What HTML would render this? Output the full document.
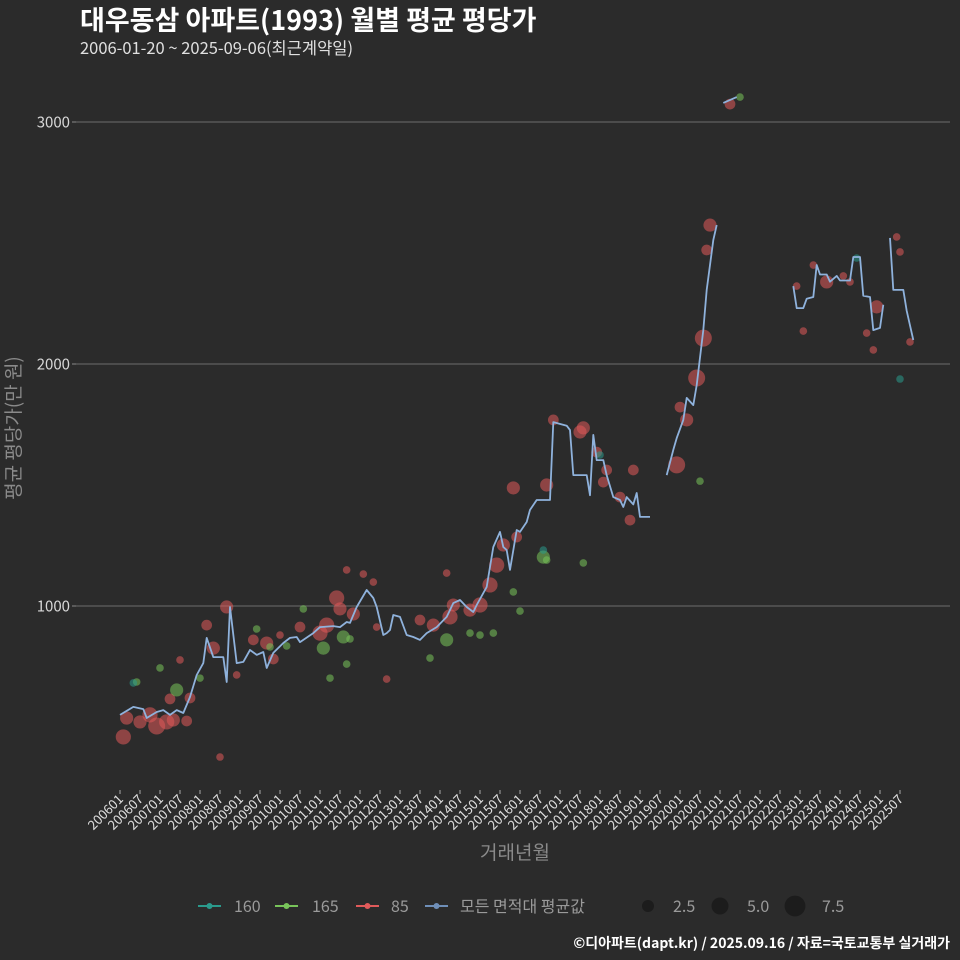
<!DOCTYPE html>
<html><head><meta charset="utf-8">
<style>
html,body{margin:0;padding:0;background:#2b2b2b;}
svg{display:block;font-family:"Noto Sans CJK KR","Liberation Sans",sans-serif;}
</style></head>
<body>
<svg id="chart" width="960" height="960" viewBox="0 0 960 960" xmlns="http://www.w3.org/2000/svg">
<rect width="960" height="960" fill="#2b2b2b"/>
<text x="80" y="30" font-size="27" font-weight="bold" fill="#ffffff">대우동삼 아파트(1993) 월별 평균 평당가</text>
<text x="80" y="54" font-size="16.5" fill="#e0e0e0">2006-01-20 ~ 2025-09-06(최근계약일)</text>
<g id="grid"></g>
<g id="yaxis"></g>
<g id="xaxis"></g>
<g id="points"></g>
<g id="lines"></g>
<text transform="translate(20,428) rotate(-90)" text-anchor="middle" font-size="19" fill="#8a8a8a">평균 평당가(만 원)</text>
<text x="515" y="859" text-anchor="middle" font-size="19" fill="#8a8a8a">거래년월</text>
<g id="legend"></g>
<text x="950" y="948" text-anchor="end" font-size="14" font-weight="bold" fill="#ffffff">©디아파트(dapt.kr) / 2025.09.16 / 자료=국토교통부 실거래가</text>
</svg>
<script>
// month index = months since 2006-01
const yTicks = [1000, 2000, 3000];
const xTickLabels = ["200601","200607","200701","200707","200801","200807","200901","200907","201001","201007","201101","201107","201201","201207","201301","201307","201401","201407","201501","201507","201601","201607","201701","201707","201801","201807","201901","201907","202001","202007","202101","202107","202201","202207","202301","202307","202401","202407","202501","202507"];
// average line
const avgMonths = [0,4,7,8,11,13,15,17,19,21,23,25,26,28,30,31,32,33,35,37,39,41,43,44,46,49,51,53,54,58,60,64,66,68,69,71,74,76,77,79,80,81,82,84,86,88,90,92,95,98,100,102,104,106,107,110,112,114,115,116,117,119,120,122,123,125,129,130,134,135,136,140,141,142,143,145,146,148,150,151,152,154,155,156,159,164,166,167,169,170,172,173,175,176,178,179,181,185,202,203,205,206,208,209,210,212,213,215,216,219,220,222,223,225,226,228,229,231,232,235,236,238];
const avgValues = [550,583,574,537,562,570,550,570,558,624,715,764,868,789,789,789,686,996,764,769,818,798,810,744,806,847,868,872,851,888,913,917,913,934,930,996,1066,1033,996,880,888,901,963,955,880,872,860,888,913,955,1012,1025,996,975,1004,1079,1244,1306,1244,1231,1149,1314,1306,1347,1397,1438,1438,1760,1745,1727,1541,1541,1458,1707,1603,1603,1540,1450,1438,1409,1450,1420,1467,1368,1368,1541,1645,1694,1769,1860,1830,1913,2140,2306,2512,2574,3079,3103,2322,2231,2231,2270,2277,2409,2370,2370,2340,2364,2345,2345,2442,2442,2282,2277,2140,2149,2245,2521,2306,2306,2220,2099];
// months after which the line has a gap (no data)
const avgBreakAfter = [159,179,185,229];
// scatter series: month, value, count
const s85Months = [1,2,6,9,11,14,16,20,15,21,18,26,28,32,30,35,40,44,46,48,54,60,62,65,66,70,68,73,76,80,77,90,94,99,100,98,105,108,111,113,115,118,119,128,130,138,139,143,145,146,150,153,154,167,170,168,173,175,176,177,183,203,205,208,212,217,219,227,224,226,233,234,237];
const s85Values = [459,537,521,550,504,521,529,525,616,620,777,921,826,996,376,715,860,847,781,880,913,888,921,1033,988,967,1149,1132,1099,698,913,942,921,955,1004,1136,983,1004,1087,1169,1252,1488,1285,1500,1769,1719,1736,1636,1512,1562,1450,1355,1562,1583,1769,1822,1942,2107,2471,2574,3074,2322,2136,2409,2339,2364,2339,2236,2128,2058,2525,2463,2091];
const s85Counts = [4,3,3,4,5,4,3,2,2,2,1,2,3,3,1,1,2,3,2,1,2,4,4,4,3,3,1,1,1,1,1,2,3,4,3,1,3,4,4,4,3,3,2,3,2,3,3,2,2,2,2,2,2,5,3,2,5,5,2,3,2,1,1,1,3,1,1,3,1,1,1,1,1];
const s165Months = [5,12,17,24,41,45,50,55,61,63,67,68,69,93,98,105,108,112,118,120,127,128,139,174,186];
const s165Values = [686,744,653,702,905,831,835,988,826,702,872,760,864,785,860,888,880,888,1058,979,1202,1190,1178,1516,3103];
const s165Counts = [1,1,3,1,1,1,1,1,3,1,3,1,1,1,3,1,1,1,1,1,3,1,1,1,1];
const s160Months = [4,127,144,221,234];
const s160Values = [682,1231,1624,2438,1938];
const s160Counts = [1,1,1,1,1];
const legendSizes = [2.5, 5.0, 7.5];

const NS = "http://www.w3.org/2000/svg";
const xScale = m => 120 + m * (40/12);
const yScale = v => 606 - (v - 1000) * 0.242;
const rScale = n => Math.sqrt(n) * 3.8;
function mk(tag, attrs, parent){const e=document.createElementNS(NS,tag);for(const k in attrs)e.setAttribute(k,attrs[k]);parent.appendChild(e);return e;}

const grid=document.getElementById('grid'), yaxis=document.getElementById('yaxis'), xaxis=document.getElementById('xaxis');
yTicks.forEach(t=>{
  const y=yScale(t);
  const l=mk('line',{x1:76,x2:950,y1:y,y2:y,stroke:'#6e6e6e','stroke-width':1},grid);
  
  
  const tk=mk('line',{x1:72,x2:76,y1:y,y2:y,stroke:'#888','stroke-width':1},yaxis);
  
  
  const tx=mk('text',{x:70,y:y+5.5,'text-anchor':'end','font-size':15,fill:'#d8d8d8'},yaxis);
  tx.textContent=t;
  
  
});
xTickLabels.forEach((lab,i)=>{
  const x=xScale(i*6);
  const tk=mk('line',{x1:x,x2:x,y1:790,y2:794,stroke:'#aaa','stroke-width':1},xaxis);
  
  
  const tx=mk('text',{transform:`translate(${x+4},${800}) rotate(-45)`,'text-anchor':'end','font-size':13,fill:'#e0e0e0'},xaxis);
  tx.textContent=lab;
  
  
});

const pts=document.getElementById('points');
function drawSeries(ms,vs,cs,color,name){
  ms.forEach((m,i)=>{
    const c=mk('circle',{cx:xScale(m),cy:yScale(vs[i]),r:rScale(cs[i]),fill:color,'fill-opacity':0.55},pts);
    
    
  });
}
drawSeries(s85Months,s85Values,s85Counts,'#e05a5a','point-85');
drawSeries(s165Months,s165Values,s165Counts,'#78c45a','point-165');
drawSeries(s160Months,s160Values,s160Counts,'#2a9a8c','point-160');

const lines=document.getElementById('lines');
let d='', pen=false;
avgMonths.forEach((m,i)=>{
  d+=(pen?'L':'M')+xScale(m).toFixed(1)+','+yScale(avgValues[i]).toFixed(1);
  pen=!avgBreakAfter.includes(m);
});
const p=mk('path',{d:d,fill:'none',stroke:'#8fb2dc','stroke-width':1.8,'stroke-linejoin':'round'},lines);



const lg=document.getElementById('legend');
const items=[['160','#2a9a8c',198,234],['165','#78c45a',275,312],['85','#e05a5a',356,391],['모든 면적대 평균값','#6f8fb8',425,460]];
items.forEach(it=>{
  const g=mk('g',{},lg);
  
  
  mk('line',{x1:it[2],x2:it[2]+23,y1:906,y2:906,stroke:it[1],'stroke-width':2},g);
  mk('circle',{cx:it[2]+11.5,cy:906,r:3,fill:it[1]},g);
  const t=mk('text',{x:it[3],y:912,'font-size':16,fill:'#9a9a9a'},g);
  t.textContent=it[0];
});
const sizeX=[648,720,795], sizeTX=[673,747,822];
legendSizes.forEach((s,i)=>{
  const c=mk('circle',{cx:sizeX[i],cy:906,r:rScale(s),fill:'#1c1c1c'},lg);
  
  
  const t=mk('text',{x:sizeTX[i],y:912,'font-size':16,fill:'#9a9a9a'},lg);
  t.textContent=s.toFixed(1);
  
  
});
</script>
</body></html>
